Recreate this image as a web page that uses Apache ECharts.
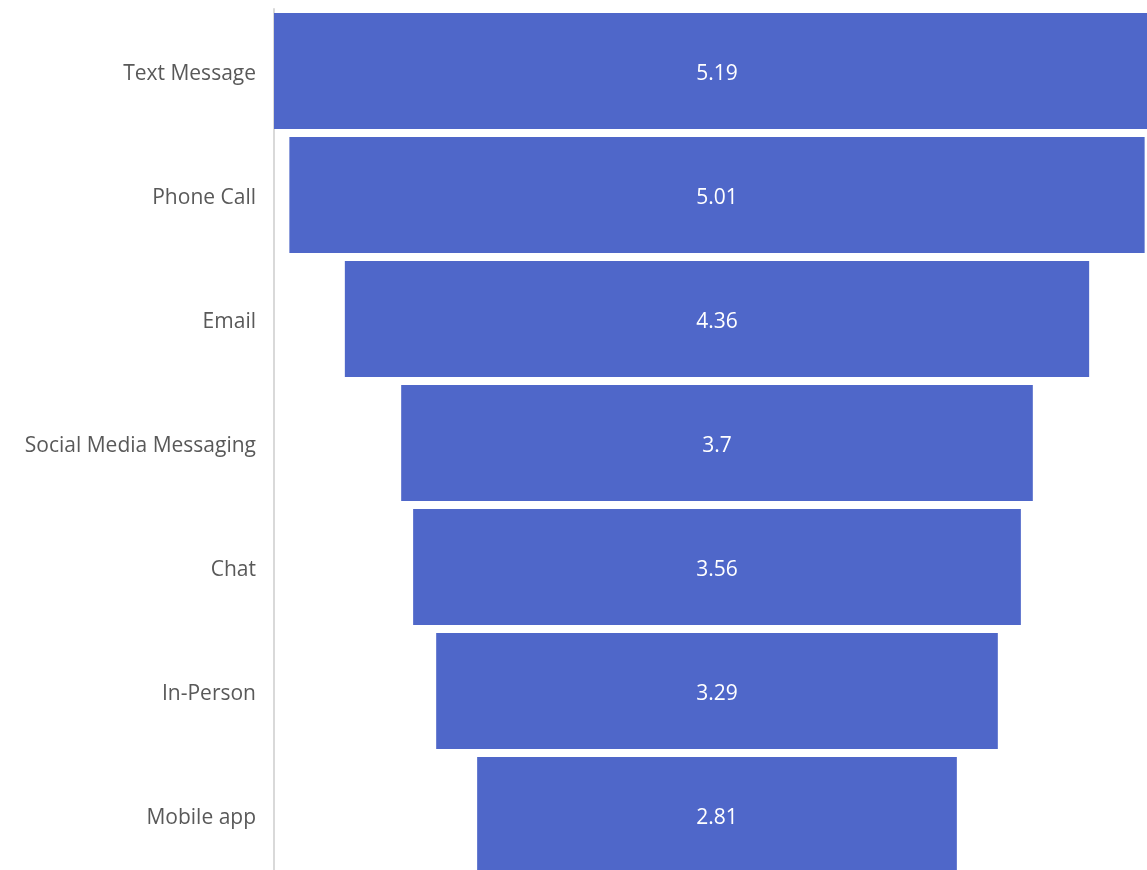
<!DOCTYPE html>
<html><head><meta charset="utf-8">
<script src="https://cdn.jsdelivr.net/npm/echarts@6/dist/echarts.min.js"></script>
<style>html,body{margin:0;padding:0;background:#fff}#c{width:1147px;height:870px}</style>
</head><body><div id="c"></div>
<script>
const categories = ["Text Message","Phone Call","Email","Social Media Messaging","Chat","In-Person","Mobile app"];
const values = [5.19, 5.01, 4.36, 3.7, 3.56, 3.29, 2.81];

const maxV = Math.max.apply(null, values);
const offsets = values.map(v => (maxV - v) / 2);
const chart = echarts.init(document.getElementById('c'));
chart.setOption({
  animation: false,
  grid: { left: 274, top: 9, right: -13, bottom: -7, containLabel: false, outerBoundsMode: 'none' },
  xAxis: { type: 'value', min: 0, max: maxV, show: false },
  yAxis: {
    type: 'category', data: categories, inverse: true,
    axisLine: { show: true, lineStyle: { color: '#d9d9d9', width: 2 } },
    axisTick: { show: false },
    axisLabel: {
      color: '#595959', fontSize: 21, fontFamily: 'Open Sans', margin: 18,
      formatter: '{t|{value}}',
      rich: { t: { color: '#595959', fontSize: 21, fontFamily: 'Open Sans', padding: [6, 0, 0, 0] } }
    }
  },
  series: [
    { type: 'bar', stack: 'f', data: offsets, itemStyle: { color: 'transparent' }, barCategoryGap: '6.5%', silent: true },
    { type: 'bar', stack: 'f', data: values, itemStyle: { color: '#4F67C9' }, barCategoryGap: '6.5%',
      label: { show: true, position: 'inside', color: '#fff', fontSize: 21, fontFamily: 'Open Sans', offset: [0, 3] } }
  ]
});
</script></body></html>
